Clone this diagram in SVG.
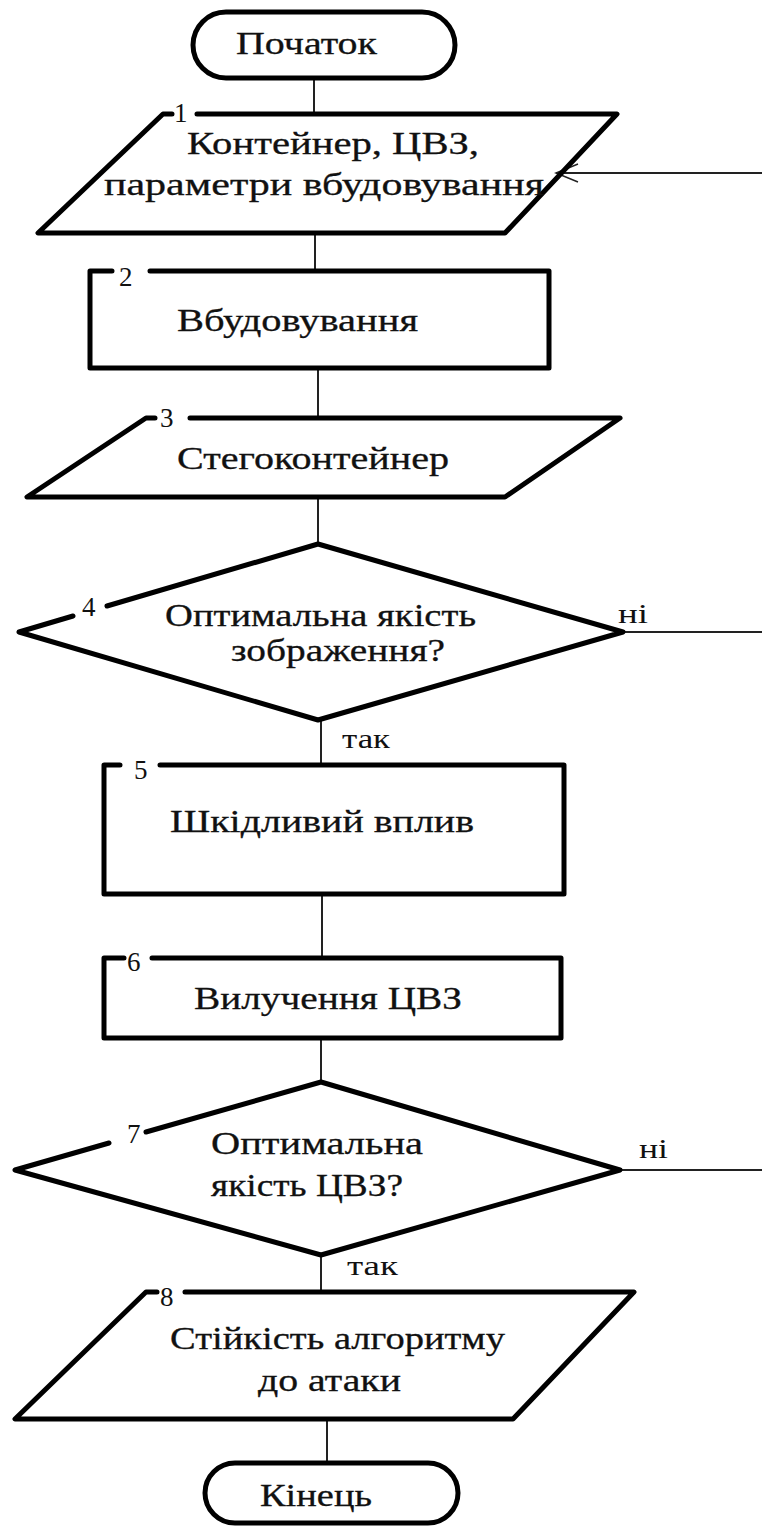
<svg xmlns="http://www.w3.org/2000/svg" width="762" height="1526" viewBox="0 0 762 1526">
<style>
.shape{fill:none;stroke:#000;stroke-width:5;stroke-linejoin:round;stroke-linecap:round}
.conn{fill:none;stroke:#222;stroke-width:2}
.t{font-family:"Liberation Serif","Times New Roman",serif;font-size:31px;fill:#111;stroke:#111;stroke-width:0.3}
.n{font-family:"Liberation Serif","Times New Roman",serif;font-size:27px;fill:#111}
.l{font-family:"Liberation Serif","Times New Roman",serif;font-size:27px;fill:#111}
</style>
<defs>
<marker id="arr" markerWidth="30" markerHeight="24" refX="26" refY="12" orient="auto" markerUnits="userSpaceOnUse">
<path d="M4 3 L26 12 L4 21" fill="none" stroke="#222" stroke-width="1.5"/>
</marker>
</defs>
<rect width="762" height="1526" fill="#fff"/>
<g id="connectors">
<line class="conn" x1="314" y1="78" x2="314" y2="114"/>
<line class="conn" x1="762" y1="173" x2="556" y2="173" marker-end="url(#arr)"/>
<line class="conn" x1="315" y1="233" x2="315" y2="271"/>
<line class="conn" x1="318" y1="368" x2="318" y2="418"/>
<line class="conn" x1="318" y1="497" x2="318" y2="544"/>
<line class="conn" x1="623" y1="632" x2="762" y2="632"/>
<line class="conn" x1="321" y1="720" x2="321" y2="765"/>
<line class="conn" x1="322" y1="894" x2="322" y2="958"/>
<line class="conn" x1="321" y1="1038" x2="321" y2="1082"/>
<line class="conn" x1="620" y1="1170" x2="762" y2="1170"/>
<line class="conn" x1="321" y1="1255" x2="321" y2="1292"/>
<line class="conn" x1="327" y1="1419" x2="327" y2="1463"/>
<text class="l" x="618" y="623" textLength="30" lengthAdjust="spacingAndGlyphs">ні</text>
<text class="l" x="342" y="748" textLength="48" lengthAdjust="spacingAndGlyphs">так</text>
<text class="l" x="639" y="1158" textLength="29" lengthAdjust="spacingAndGlyphs">ні</text>
<text class="l" x="347" y="1275" textLength="51" lengthAdjust="spacingAndGlyphs">так</text>
</g>
<g id="start">
<rect class="shape" x="193" y="12" width="262" height="66" rx="33"/>
<text class="t" x="236" y="54" textLength="141" lengthAdjust="spacingAndGlyphs">Початок</text>
</g>
<g id="node1">
<path class="shape" d="M172 114 H163 L38 233 H505 L617 114 H197"/>
<text class="n" x="174" y="122">1</text>
<text class="t" x="187" y="154" textLength="292" lengthAdjust="spacingAndGlyphs">Контейнер, ЦВЗ,</text>
<text class="t" x="104" y="195" textLength="440" lengthAdjust="spacingAndGlyphs">параметри вбудовування</text>
</g>
<g id="node2">
<path class="shape" d="M112 271 H90 V368 H549 V271 H150"/>
<text class="n" x="119" y="286">2</text>
<text class="t" x="177" y="331" textLength="241" lengthAdjust="spacingAndGlyphs">Вбудовування</text>
</g>
<g id="node3">
<path class="shape" d="M155 418 H146 L27 497 H505 L620 418 H190"/>
<text class="n" x="160" y="427">3</text>
<text class="t" x="177" y="469" textLength="272" lengthAdjust="spacingAndGlyphs">Стегоконтейнер</text>
</g>
<g id="node4">
<path class="shape" d="M107 606 L318 544 L623 632 L318 720 L19 632 L73 616"/>
<text class="n" x="82" y="616">4</text>
<text class="t" x="165" y="626" textLength="311" lengthAdjust="spacingAndGlyphs">Оптимальна якість</text>
<text class="t" x="231" y="661" textLength="214" lengthAdjust="spacingAndGlyphs">зображення?</text>
</g>
<g id="node5">
<path class="shape" d="M120 765 H104 V894 H564 V765 H160"/>
<text class="n" x="134" y="779">5</text>
<text class="t" x="170" y="832" textLength="304" lengthAdjust="spacingAndGlyphs">Шкідливий вплив</text>
</g>
<g id="node6">
<path class="shape" d="M124 958 H104 V1038 H561 V958 H152"/>
<text class="n" x="127" y="971">6</text>
<text class="t" x="194" y="1009" textLength="268" lengthAdjust="spacingAndGlyphs">Вилучення ЦВЗ</text>
</g>
<g id="node7">
<path class="shape" d="M146 1132 L321 1082 L620 1170 L321 1255 L15 1170 L109 1143"/>
<text class="n" x="127" y="1143">7</text>
<text class="t" x="211" y="1154" textLength="212" lengthAdjust="spacingAndGlyphs">Оптимальна</text>
<text class="t" x="211" y="1196" textLength="192" lengthAdjust="spacingAndGlyphs">якість ЦВЗ?</text>
</g>
<g id="node8">
<path class="shape" d="M157 1292 H146 L15 1419 H513 L634 1292 H185"/>
<text class="n" x="160" y="1306">8</text>
<text class="t" x="170" y="1349" textLength="335" lengthAdjust="spacingAndGlyphs">Стійкість алгоритму</text>
<text class="t" x="258" y="1391" textLength="143" lengthAdjust="spacingAndGlyphs">до атаки</text>
</g>
<g id="end">
<rect class="shape" x="205" y="1463" width="253" height="60" rx="30"/>
<text class="t" x="260" y="1506" textLength="112" lengthAdjust="spacingAndGlyphs">Кінець</text>
</g>
</svg>
